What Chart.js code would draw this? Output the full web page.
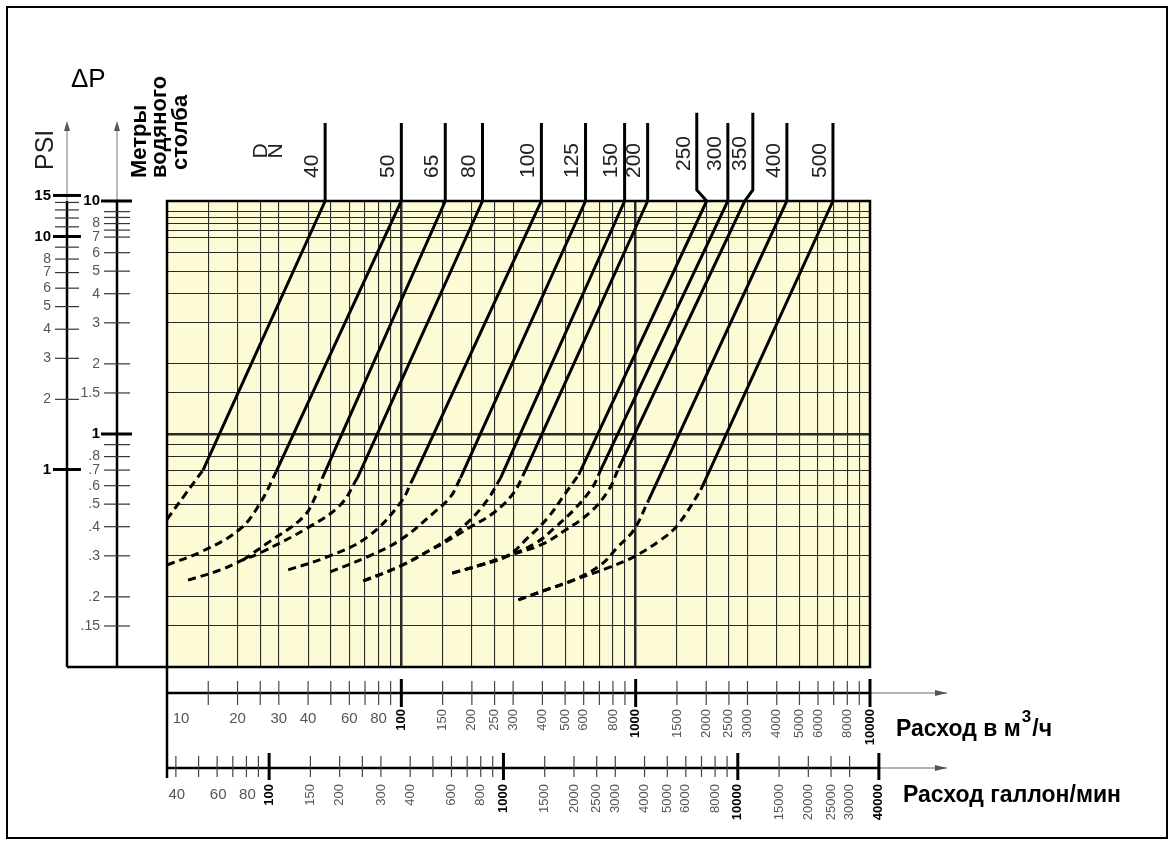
<!DOCTYPE html>
<html>
<head>
<meta charset="utf-8">
<script src="https://cdn.jsdelivr.net/npm/chart.js@4.4.0/dist/chart.umd.min.js"></script>
<style>
  html, body { margin: 0; padding: 0; background: #fff; }
  canvas { display: block; }
</style>
</head>
<body>
<canvas id="chart" width="1175" height="846"></canvas>
<script>
// flow Q in m3/h, head loss in metres of water
const dnNames = ['40', '50', '65', '80', '100', '125', '150', '200', '250', '300', '350', '400', '500'];
const raisedLabels = ['250', '300', '350'];

// dashed (low flow) part of each curve
const lowDN40 = [[10, 0.43], [11.9, 0.547], [14.25, 0.70]];
const lowDN50 = [[10, 0.274], [14.25, 0.315], [20.5, 0.391], [25, 0.506], [29.2, 0.687]];
const lowDN65 = [[21.1, 0.288], [27.6, 0.347], [38.1, 0.44], [43.3, 0.547], [46, 0.647]];
const lowDN80 = [[12.3, 0.236], [16.9, 0.261], [21.1, 0.288], [25, 0.309], [39.7, 0.395], [54.9, 0.496], [64.9, 0.647]];
const lowDN100 = [[32.9, 0.261], [48.3, 0.297], [71.6, 0.361], [99, 0.506], [112.5, 0.647]];
const lowDN125 = [[49.7, 0.256], [71.6, 0.297], [99, 0.351], [137, 0.458], [162, 0.537], [178.7, 0.647]];
const lowDN150 = [[68.8, 0.234], [99, 0.271], [133, 0.318], [162, 0.361], [197, 0.428], [233, 0.521], [265, 0.647]];
const lowDN200 = [[68.8, 0.234], [99, 0.271], [133, 0.318], [151, 0.340], [197, 0.399], [247, 0.458], [301, 0.558], [339, 0.70]];
const lowDN250 = [[165, 0.253], [218, 0.274], [284, 0.300], [346, 0.358], [421, 0.436], [502, 0.558], [571, 0.667]];
const lowDN300 = [[165, 0.253], [218, 0.274], [284, 0.300], [374, 0.340], [455, 0.399], [554, 0.481], [655, 0.592], [709, 0.70]];
const lowDN350 = [[165, 0.253], [218, 0.274], [284, 0.300], [393, 0.334], [502, 0.387], [642, 0.463], [767, 0.575], [846, 0.714]];
const lowDN400 = [[316, 0.194], [413, 0.214], [543, 0.236], [709, 0.274], [838, 0.327], [981, 0.387], [1137, 0.521]];
const lowDN500 = [[316, 0.194], [413, 0.214], [543, 0.236], [782, 0.269], [981, 0.297], [1279, 0.351], [1512, 0.407], [1896, 0.575]];

// solid part, up to 10 m and the lead line above the plot
const highDN40 = [[14.25, 0.70], [47.3, 10], [47.3, 21.6]];
const highDN50 = [[29.2, 0.687], [100, 10], [100, 21.6]];
const highDN65 = [[46, 0.647], [154, 10], [154, 21.6]];
const highDN80 = [[64.9, 0.647], [222, 10], [222, 21.6]];
const highDN100 = [[112.5, 0.647], [396, 10], [396, 21.6]];
const highDN125 = [[178.7, 0.647], [611, 10], [611, 21.6]];
const highDN150 = [[265, 0.647], [897, 10], [897, 21.6]];
const highDN200 = [[339, 0.70], [1125, 10], [1125, 21.6]];
const highDN250 = [[571, 0.667], [2010, 10], [1823, 11.15], [1823, 23.9]];
const highDN300 = [[709, 0.70], [2474, 10], [2474, 21.6]];
const highDN350 = [[846, 0.714], [2920, 10], [3162, 11.15], [3162, 23.9]];
const highDN400 = [[1137, 0.521], [4419, 10], [4419, 21.6]];
const highDN500 = [[1896, 0.575], [6949, 10], [6949, 21.6]];

const lowParts = [lowDN40, lowDN50, lowDN65, lowDN80, lowDN100, lowDN125, lowDN150, lowDN200, lowDN250, lowDN300, lowDN350, lowDN400, lowDN500];
const highParts = [highDN40, highDN50, highDN65, highDN80, highDN100, highDN125, highDN150, highDN200, highDN250, highDN300, highDN350, highDN400, highDN500];

// axes
const flowGrid = [15, 20, 25, 30, 40, 50, 60, 70, 80, 90, 100, 150, 200, 250, 300, 400, 500, 600, 700, 800, 900,
  1000, 1500, 2000, 2500, 3000, 4000, 5000, 6000, 7000, 8000, 9000, 10000];
const flowLabels = [10, 20, 30, 40, 60, 80, 100, 150, 200, 250, 300, 400, 500, 600, 800, 1000, 1500, 2000, 2500, 3000,
  4000, 5000, 6000, 8000, 10000];
const galTicks = [40, 50, 60, 70, 80, 90, 100, 150, 200, 250, 300, 400, 500, 600, 700, 800, 900, 1000, 1500, 2000, 2500,
  3000, 4000, 5000, 6000, 7000, 8000, 9000, 10000, 15000, 20000, 25000, 30000, 40000];
const galLabels = [40, 60, 80, 100, 150, 200, 300, 400, 600, 800, 1000, 1500, 2000, 2500, 3000, 4000, 5000, 6000, 8000,
  10000, 15000, 20000, 25000, 30000, 40000];
const headGrid = [0.15, 0.2, 0.3, 0.4, 0.5, 0.6, 0.7, 0.8, 0.9, 1, 1.5, 2, 3, 4, 5, 6, 7, 7.5, 8, 8.5, 9, 10];
const headLabelValues = [0.15, 0.2, 0.3, 0.4, 0.5, 0.6, 0.7, 0.8, 1, 1.5, 2, 3, 4, 5, 6, 7, 8, 10];
const headLabelText = ['.15', '.2', '.3', '.4', '.5', '.6', '.7', '.8', '1', '1.5', '2', '3', '4', '5', '6', '7', '8', '10'];
const psiTicks = [1, 2, 3, 4, 5, 6, 7, 8, 9, 10, 11, 12, 13, 14, 15];
const psiLabels = [1, 2, 3, 4, 5, 6, 7, 8, 10, 15];

const FONT = '"Liberation Sans", Arial, sans-serif';

function seg(ctx, x1, y1, x2, y2, w, color) {
  ctx.beginPath();
  ctx.lineWidth = w;
  ctx.strokeStyle = color || '#000';
  ctx.moveTo(x1, y1);
  ctx.lineTo(x2, y2);
  ctx.stroke();
}

function arrow(ctx, x, y, dir) {
  ctx.beginPath();
  ctx.fillStyle = '#555';
  if (dir === 'up') {
    ctx.moveTo(x, y); ctx.lineTo(x - 3, y + 10); ctx.lineTo(x + 3, y + 10);
  } else {
    ctx.moveTo(x, y); ctx.lineTo(x - 12, y - 3); ctx.lineTo(x - 12, y + 3);
  }
  ctx.closePath();
  ctx.fill();
}

function vText(ctx, text, x, y, font, color, align, baseline) {
  ctx.save();
  ctx.translate(x, y);
  ctx.rotate(-Math.PI / 2);
  ctx.font = font;
  ctx.fillStyle = color;
  ctx.textAlign = align;
  ctx.textBaseline = baseline || 'middle';
  ctx.fillText(text, 0, 0);
  ctx.restore();
}

const nomogram = {
  id: 'nomogram',
  beforeDraw(chart) {
    const { ctx, chartArea: a } = chart;
    ctx.save();
    ctx.fillStyle = '#fff';
    ctx.fillRect(0, 0, chart.width, chart.height);
    ctx.strokeStyle = '#000';
    ctx.lineWidth = 2;
    ctx.strokeRect(7, 7, chart.width - 15, chart.height - 15);
    ctx.fillStyle = '#fdfbd6';
    ctx.fillRect(a.left, a.top, a.right - a.left, a.bottom - a.top);
    ctx.restore();
  },
  afterDraw(chart) {
    const ctx = chart.ctx, a = chart.chartArea;
    const sx = chart.scales.x, sy = chart.scales.y, sp = chart.scales.psi, sg = chart.scales.gal;
    const L = a.left, R = a.right, T = a.top, B = a.bottom;
    const psiX = L - 100, headX = L - 50, axisTop = T - 76;
    const flowY = B + 26, galY = B + 101, arrowEnd = R + 77;
    ctx.save();

    // plot frame and frame lines
    ctx.strokeStyle = '#000';
    ctx.lineWidth = 2.5;
    ctx.strokeRect(L, T, R - L, B - T);
    seg(ctx, psiX, B, L, B, 2.5);
    seg(ctx, L, B, L, galY + 10, 2.5);

    // left vertical axes
    [psiX, headX].forEach(ax => {
      seg(ctx, ax, axisTop, ax, T, 1, '#777');
      seg(ctx, ax, T, ax, B, 2.5);
      arrow(ctx, ax, axisTop - 4, 'up');
    });

    // metres of water column
    headGrid.forEach(v => {
      const py = sy.getPixelForValue(v);
      const major = v === 1 || v === 10;
      seg(ctx, headX - (major ? 16 : 13), py, headX + (major ? 15 : 13), py, major ? 3 : 1.2, major ? '#000' : '#333');
    });
    ctx.textAlign = 'right';
    ctx.textBaseline = 'middle';
    headLabelValues.forEach((v, i) => {
      const major = v === 1 || v === 10;
      ctx.font = (major ? 'bold 15px ' : '14px ') + FONT;
      ctx.fillStyle = major ? '#000' : '#555';
      ctx.fillText(headLabelText[i], headX - 17, sy.getPixelForValue(v));
    });

    // PSI
    psiTicks.forEach(v => {
      const py = sp.getPixelForValue(v);
      const major = v === 1 || v === 10 || v === 15;
      seg(ctx, psiX - (major ? 14 : 12), py, psiX + (major ? 14 : 12), py, major ? 3 : 1.2, major ? '#000' : '#333');
    });
    psiLabels.forEach(v => {
      const major = v === 1 || v === 10 || v === 15;
      ctx.font = (major ? 'bold 15px ' : '14px ') + FONT;
      ctx.fillStyle = major ? '#000' : '#555';
      ctx.fillText(String(v), psiX - 16, sp.getPixelForValue(v));
    });

    // flow m3/h axis
    seg(ctx, L, flowY, R, flowY, 2.5);
    seg(ctx, R, flowY, arrowEnd, flowY, 1, '#666');
    arrow(ctx, arrowEnd, flowY, 'right');
    flowGrid.forEach(v => {
      const px = sx.getPixelForValue(v);
      const major = v === 100 || v === 1000 || v === 10000;
      seg(ctx, px, flowY - (major ? 14 : 12), px, flowY + (major ? 14 : 12), major ? 3 : 1.2, major ? '#000' : '#444');
    });
    flowLabels.forEach(v => {
      const px = sx.getPixelForValue(v);
      const major = v === 100 || v === 1000 || v === 10000;
      if (v < 100) {
        ctx.font = '15px ' + FONT;
        ctx.fillStyle = '#555';
        ctx.textAlign = 'center';
        ctx.fillText(String(v), v === 10 ? px + 14 : px, flowY + 26);
      } else {
        vText(ctx, String(v), px, flowY + 16, (major ? 'bold 13px ' : '13px ') + FONT, major ? '#000' : '#555', 'right');
      }
    });

    // flow gallons/min axis
    const galEnd = sg.getPixelForValue(40000);
    seg(ctx, L, galY, galEnd, galY, 2.5);
    seg(ctx, galEnd, galY, arrowEnd, galY, 1, '#666');
    arrow(ctx, arrowEnd, galY, 'right');
    galTicks.forEach(v => {
      const px = sg.getPixelForValue(v);
      const major = v === 100 || v === 1000 || v === 10000 || v === 40000;
      seg(ctx, px, galY - (major ? 15 : 12), px, galY + (major ? 12 : 9), major ? 3 : 1.2, major ? '#000' : '#444');
    });
    galLabels.forEach(v => {
      const px = sg.getPixelForValue(v);
      const major = v === 100 || v === 1000 || v === 10000 || v === 40000;
      if (v < 100) {
        ctx.font = '15px ' + FONT;
        ctx.fillStyle = '#555';
        ctx.textAlign = 'center';
        ctx.fillText(String(v), px + 1, galY + 27);
      } else {
        vText(ctx, String(v), px, galY + 16, (major ? 'bold 13px ' : '13px ') + FONT, major ? '#000' : '#555', 'right');
      }
    });

    // axis titles
    ctx.fillStyle = '#000';
    ctx.textAlign = 'left';
    ctx.textBaseline = 'alphabetic';
    ctx.font = '26px ' + FONT;
    ctx.fillText('\u0394P', 71, 87);
    vText(ctx, 'PSI', 53, 170, '25px ' + FONT, '#222', 'left', 'alphabetic');
    vText(ctx, 'Метры', 140, 178, 'bold 22px ' + FONT, '#000', 'left');
    vText(ctx, 'водяного', 160, 178, 'bold 22px ' + FONT, '#000', 'left');
    vText(ctx, 'столба', 181, 170, 'bold 22px ' + FONT, '#000', 'left');

    ctx.font = 'bold 23px ' + FONT;
    ctx.textAlign = 'left';
    ctx.fillStyle = '#000';
    const t1 = 'Расход в м';
    ctx.fillText(t1, R + 26, flowY + 43);
    const w1 = ctx.measureText(t1).width;
    ctx.font = 'bold 17px ' + FONT;
    ctx.fillText('3', R + 27 + w1, flowY + 29);
    const w2 = ctx.measureText('3').width;
    ctx.font = 'bold 23px ' + FONT;
    ctx.fillText('/ч', R + 28 + w1 + w2, flowY + 43);
    ctx.fillText('Расход галлон/мин', R + 33, galY + 34);

    // DN labels
    vText(ctx, 'D', 261, 151, '21px ' + FONT, '#222', 'center');
    vText(ctx, 'N', 276, 151, '21px ' + FONT, '#222', 'center');
    dnNames.forEach((name, i) => {
      const part = highParts[i];
      const px = sx.getPixelForValue(part[part.length - 1][0]);
      const bottom = raisedLabels.includes(name) ? T - 30 : T - 23;
      vText(ctx, name, px - 13, bottom, '21px ' + FONT, '#222', 'left');
    });
    ctx.restore();
  }
};

const datasets = [];
lowParts.forEach((part, i) => {
  datasets.push({
    label: 'DN' + dnNames[i] + ' low',
    data: part.map(p => ({ x: p[0], y: p[1] })),
    borderDash: [8, 5],
    tension: 0.4,
    xAxisID: 'x', yAxisID: 'y'
  });
  datasets.push({
    label: 'DN' + dnNames[i],
    data: highParts[i].map(p => ({ x: p[0], y: p[1] })),
    tension: 0,
    clip: false,
    xAxisID: 'x', yAxisID: 'y'
  });
});

new Chart(document.getElementById('chart'), {
  type: 'line',
  data: { datasets },
  options: {
    responsive: false,
    animation: false,
    devicePixelRatio: 1,
    events: [],
    layout: { padding: { left: 167, top: 201, right: 305, bottom: 179 } },
    plugins: { legend: { display: false }, tooltip: { enabled: false } },
    elements: {
      point: { radius: 0 },
      line: { borderColor: '#000', borderWidth: 3, borderCapStyle: 'butt', fill: false }
    },
    scales: {
      x: {
        type: 'logarithmic', position: 'bottom', min: 10, max: 10000,
        afterBuildTicks: s => { s.ticks = flowGrid.map(v => ({ value: v })); },
        ticks: { display: false },
        border: { display: false },
        grid: {
          drawTicks: false, color: '#2a2a2a',
          lineWidth: c => (c.tick && (c.tick.value === 100 || c.tick.value === 1000)) ? 2.5 : 1.1
        }
      },
      y: {
        type: 'logarithmic', position: 'left', min: 0.1, max: 10,
        afterBuildTicks: s => { s.ticks = headGrid.map(v => ({ value: v })); },
        ticks: { display: false },
        border: { display: false },
        grid: {
          drawTicks: false, color: '#2a2a2a',
          lineWidth: c => (c.tick && c.tick.value === 1) ? 2.5 : 1.1
        }
      },
      psi: { type: 'logarithmic', axis: 'y', position: 'left', display: false, min: 0.142, max: 14.2 },
      gal: { type: 'logarithmic', axis: 'x', position: 'bottom', display: false, min: 36.66, max: 36660 }
    }
  },
  plugins: [nomogram]
});
</script>
</body>
</html>
